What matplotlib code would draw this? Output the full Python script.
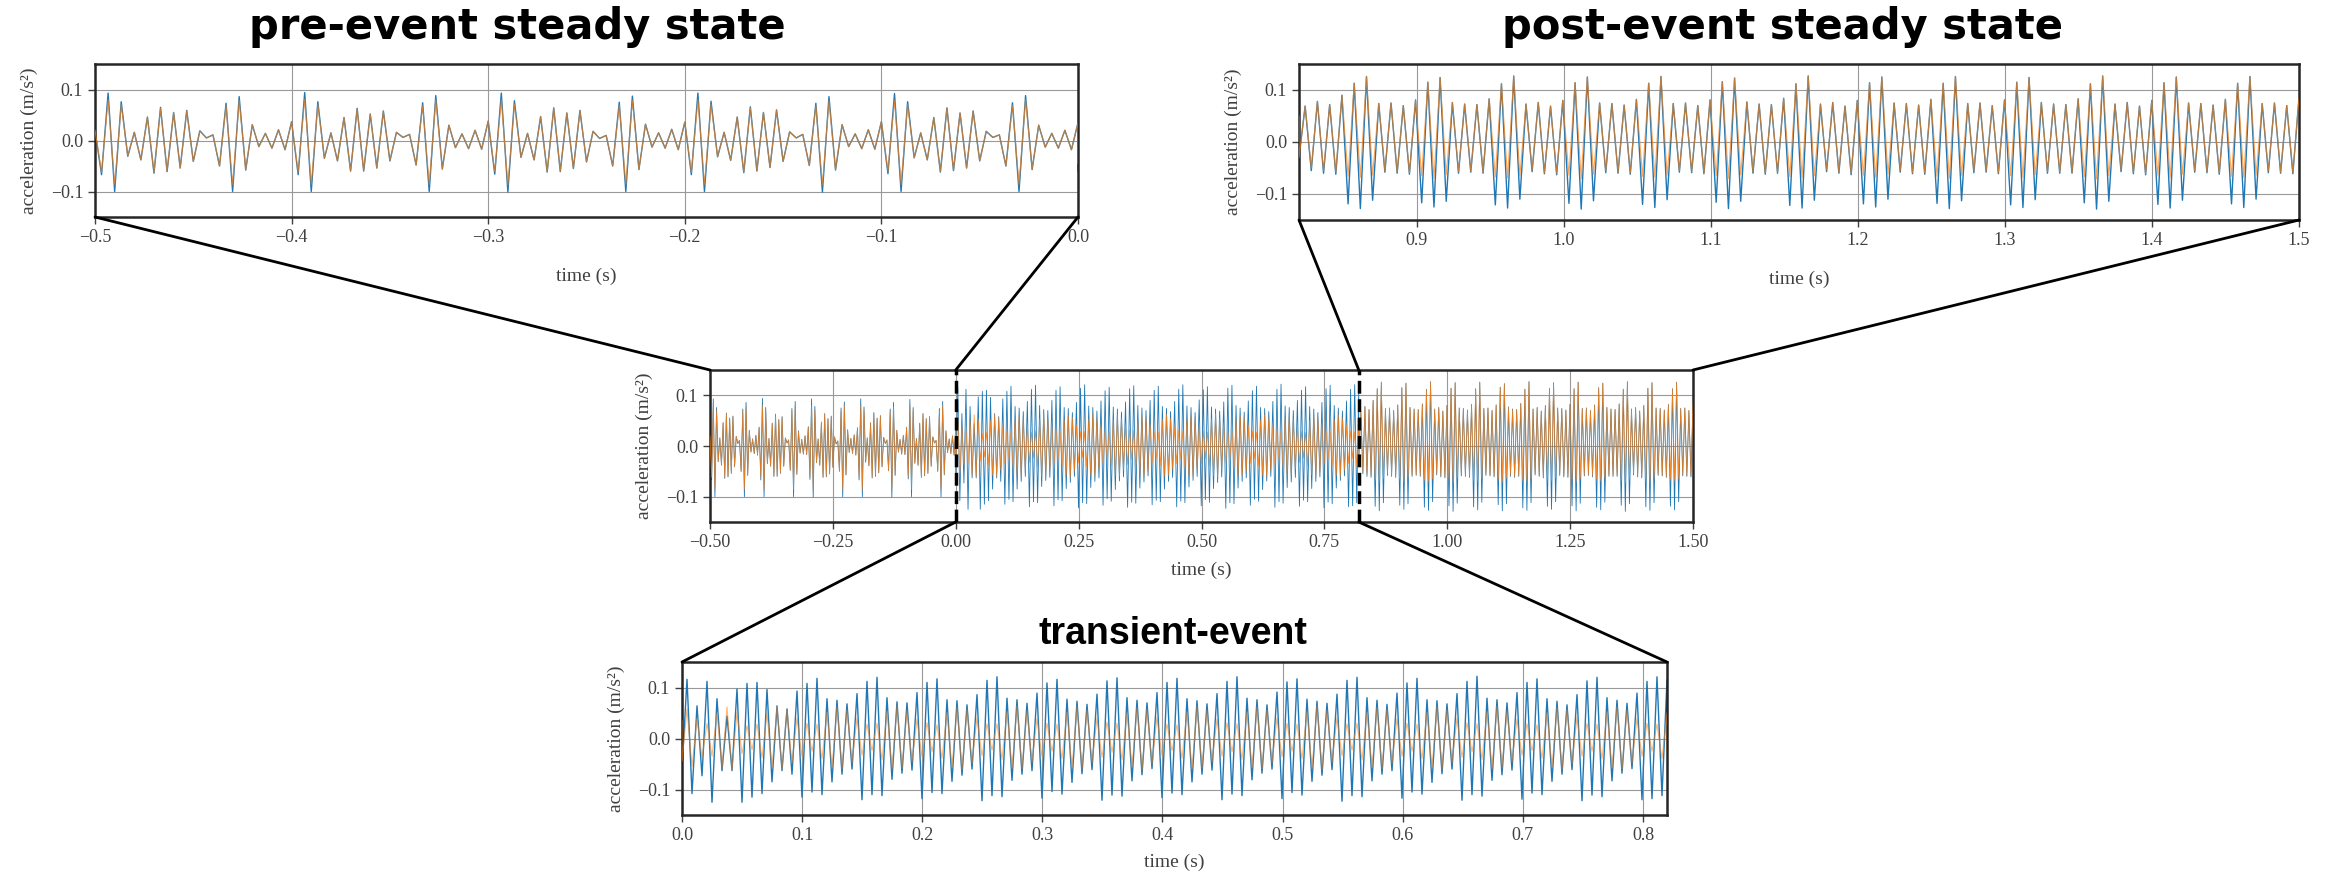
import numpy as np
import matplotlib.pyplot as plt
from matplotlib.patches import ConnectionPatch

plt.rcParams['font.family'] = ['Liberation Serif', 'DejaVu Serif']

# successive peaks / troughs of the two acceleration traces, in 1e-3 m/s^2,
# read off the zoomed panels (evenly spaced in time inside each segment)
seg_pre = (-0.5, 0.0)
seg_tr = (0.0, 0.82)
seg_post = (0.82, 1.5)

pre_blue = [20,
    -67, 93, -100, 76, -31, 16, -38, 46, -64, 65, -61, 55, -54, 59, -41, 19, 5, 11, -50, 73, -100, 86, -58, 31, -12, 14, -15, 21, -18, 37,
    -67, 94, -100, 76, -35, 15, -40, 45, -60, 63, -60, 52, -54, 58, -40, 16, 6, 12, -48, 74, -100, 88, -56, 30, -14, 13, -16, 20, -17, 38,
    -66, 93, -101, 78, -33, 14, -38, 47, -62, 64, -61, 54, -55, 59, -42, 18, 4, 10, -50, 75, -100, 87, -57, 32, -13, 15, -15, 22, -18, 36,
    -67, 93, -100, 77, -32, 16, -39, 46, -63, 66, -60, 55, -53, 60, -41, 17, 5, 12, -49, 73, -101, 86, -58, 31, -12, 13, -16, 21, -17, 37,
    -65, 92, -100, 76, -34, 15, -38, 45, -62, 64, -59, 54, -54, 58, -40, 18, 6, 11, -50, 74, -100, 88, -57, 30, -13, 14, -15, 20, -18, 35]
pre_orange = [20,
    -62, 80, -86, 70, -31, 16, -38, 46, -62, 63, -60, 55, -54, 58, -41, 19, 5, 11, -50, 68, -86, 78, -57, 31, -12, 14, -15, 21, -18, 37,
    -62, 81, -86, 70, -35, 15, -40, 45, -60, 62, -59, 52, -54, 57, -40, 16, 6, 12, -48, 69, -86, 80, -56, 30, -14, 13, -16, 20, -17, 38,
    -61, 80, -87, 71, -33, 14, -38, 47, -61, 63, -60, 54, -55, 58, -42, 18, 4, 10, -50, 69, -86, 79, -57, 32, -13, 15, -15, 22, -18, 36,
    -62, 80, -86, 71, -32, 16, -39, 46, -62, 64, -59, 55, -53, 59, -41, 17, 5, 12, -49, 68, -87, 78, -57, 31, -12, 13, -16, 21, -17, 37,
    -60, 79, -86, 70, -34, 15, -38, 45, -61, 63, -58, 54, -54, 57, -40, 18, 6, 11, -50, 69, -86, 80, -56, 30, -13, 14, -15, 20, -18, 35]

tr_blue = [-60, 116, -108, 64, -73, 112, -125, 78, -63, 44, -63, 97, -125, 108, -115, 110, -108, 96, -85, 64, -63, 58, -70, 93,
    -115, 108, -105, 118, -110, 78, -85, 75, -70, 68, -60, 88,
    -120, 112, -110, 120, -112, 80, -80, 72, -68, 70, -62, 90,
    -118, 110, -106, 117, -108, 76, -84, 74, -72, 66, -60, 86,
    -122, 114, -112, 121, -114, 79, -82, 76, -70, 69, -63, 89,
    -117, 109, -104, 116, -109, 77, -86, 73, -69, 67, -61, 87,
    -121, 113, -111, 119, -113, 80, -83, 75, -71, 70, -59, 90,
    -116, 110, -107, 118, -110, 78, -85, 74, -70, 68, -62, 88,
    -120, 112, -109, 121, -112, 79, -81, 76, -68, 66, -60, 91,
    -118, 111, -106, 117, -111, 77, -84, 73, -72, 69, -61, 87,
    -123, 114, -112, 120, -114, 80, -83, 75, -70, 67, -63, 89,
    -117, 109, -105, 118, -109, 76, -86, 74, -69, 68, -60, 88,
    -121, 112, -110, 122, -113, 79, -82, 76, -71, 70, -62, 90,
    -119, 110, -107, 117, -110, 78, -84, 73, -70, 66, -61, 86,
    -122, 113, -111, 120, -114, 80, -83, 75, -68, 69, -59, 89,
    -120, 112, -118, 121, -112, 115]
tr_orange = [-45, 58, -55, 40, -38, 30, -35, 50, -58, 62, -60, 52, -30, 25, -22, 28, -38, 50, -58, 62, -60, 55, -48, 40,
    -35, 30, -25, 28, -40, 52, -58, 62, -60, 56, -48, 40,
    -33, 28, -24, 30, -42, 54, -60, 63, -58, 55, -46, 38,
    -36, 31, -26, 27, -39, 51, -57, 61, -61, 57, -49, 41,
    -34, 29, -23, 29, -41, 53, -59, 64, -59, 54, -47, 39,
    -35, 30, -25, 28, -40, 52, -58, 62, -60, 56, -48, 40,
    -37, 32, -27, 30, -42, 50, -56, 60, -62, 57, -50, 42,
    -33, 28, -24, 27, -39, 53, -60, 63, -58, 55, -46, 38,
    -35, 31, -26, 29, -41, 52, -58, 62, -60, 56, -48, 40,
    -36, 30, -25, 28, -40, 54, -59, 64, -61, 55, -47, 41,
    -34, 29, -23, 30, -42, 51, -57, 61, -59, 57, -49, 39,
    -35, 30, -25, 28, -40, 52, -58, 62, -60, 56, -48, 40,
    -37, 31, -26, 29, -41, 53, -60, 63, -58, 54, -46, 38,
    -33, 29, -24, 27, -39, 50, -57, 61, -61, 57, -50, 42,
    -35, 30, -25, 28, -40, 52, -58, 62, -60, 56, -48, 40,
    -35, 30, -25, 28, -40, 50]

post_blue = [-30, 69, -55, 78, -60, 72, -62, 90,
    -119, 113, -128, 126, -112, 74, -58, 75, -60, 70, -62, 81,
    -117, 115, -125, 124, -114, 76, -60, 73, -58, 72, -60, 83,
    -121, 112, -127, 127, -110, 73, -57, 76, -61, 69, -63, 80,
    -118, 114, -129, 125, -113, 75, -59, 74, -60, 71, -62, 82,
    -120, 113, -126, 126, -111, 74, -58, 75, -59, 70, -61, 81,
    -116, 116, -128, 123, -114, 77, -60, 73, -62, 72, -60, 84,
    -122, 112, -127, 127, -112, 73, -57, 76, -60, 69, -63, 80,
    -119, 114, -125, 125, -110, 75, -58, 74, -61, 71, -62, 82,
    -118, 113, -128, 126, -113, 74, -59, 75, -58, 70, -61, 81,
    -121, 115, -126, 124, -111, 76, -60, 73, -60, 72, -60, 83,
    -117, 112, -129, 127, -114, 73, -57, 76, -61, 69, -63, 80,
    -120, 114, -127, 125, -112, 75, -58, 74, -59, 71, -62, 82,
    -119, 113, -126, 126, -110, 74, -59, 75, -60, 70, -61, 85]
post_orange = [-30, 69, -50, 78, -55, 72, -58, 90,
    -66, 113, -68, 126, -64, 74, -55, 75, -58, 70, -60, 81,
    -65, 115, -70, 124, -63, 76, -57, 73, -56, 72, -58, 83,
    -67, 112, -69, 127, -65, 73, -54, 76, -59, 69, -61, 80,
    -64, 114, -71, 125, -62, 75, -56, 74, -58, 71, -60, 82,
    -66, 113, -68, 126, -64, 74, -55, 75, -57, 70, -59, 81,
    -65, 116, -70, 123, -63, 77, -57, 73, -60, 72, -58, 84,
    -67, 112, -69, 127, -65, 73, -54, 76, -58, 69, -61, 80,
    -64, 114, -68, 125, -62, 75, -55, 74, -59, 71, -60, 82,
    -66, 113, -70, 126, -64, 74, -56, 75, -56, 70, -59, 81,
    -65, 115, -68, 124, -63, 76, -57, 73, -58, 72, -58, 83,
    -67, 112, -71, 127, -65, 73, -54, 76, -59, 69, -61, 80,
    -64, 114, -69, 125, -62, 75, -55, 74, -57, 71, -60, 82,
    -66, 113, -68, 126, -64, 74, -56, 75, -58, 70, -59, 85]


def trace(parts):
    t = np.concatenate([np.linspace(a, b, len(v)) for (a, b), v in parts])
    y = np.concatenate([np.asarray(v, float) / 1000.0 for _, v in parts])
    return t, y


t_b, y_b = trace([(seg_pre, pre_blue), (seg_tr, tr_blue), (seg_post, post_blue)])
t_o, y_o = trace([(seg_pre, pre_orange), (seg_tr, tr_orange), (seg_post, post_orange)])

W, H = 2336, 881
fig = plt.figure(figsize=(W / 100, H / 100), dpi=100)


def box(x0, x1, y0, y1):
    return [x0 / W, 1 - y1 / H, (x1 - x0) / W, (y1 - y0) / H]


ax_pre = fig.add_axes(box(95, 1078, 64, 217))
ax_post = fig.add_axes(box(1299, 2299, 64, 220))
ax_all = fig.add_axes(box(710, 1693, 370, 522))
ax_tr = fig.add_axes(box(682, 1667, 662, 815))

panels = [(ax_pre, seg_pre, np.arange(-0.5, 0.01, 0.1), 1.0, 0.7, 16),
          (ax_post, seg_post, np.arange(0.9, 1.51, 0.1), 1.0, 0.7, 16),
          (ax_all, (-0.5, 1.5), np.arange(-0.5, 1.51, 0.25), 0.6, 0.9, 8),
          (ax_tr, seg_tr, np.arange(0.0, 0.81, 0.1), 1.0, 0.55, 7)]
for ax, xl, ticks, lw, alpha, xpad in panels:
    ax.plot(t_b, y_b, color='#1f77b4', lw=lw, zorder=2)
    ax.plot(t_o, y_o, color='#ff7f0e', lw=lw * 0.8, alpha=alpha, zorder=3)
    ax.set_xlim(*xl)
    ax.set_ylim(-0.15, 0.15)
    ax.set_xticks(ticks)
    ax.set_yticks([-0.1, 0.0, 0.1])
    ax.set_axisbelow(True)
    ax.grid(True, color='0.6', lw=0.8)
    ax.tick_params(labelsize=13, length=5, width=1, colors='0.25')
    for s in ax.spines.values():
        s.set_linewidth(1.8)
        s.set_color('0.15')
    ax.set_xlabel('time (s)', fontsize=14, color='0.25', labelpad=xpad)
    ax.set_ylabel('acceleration (m/s²)', fontsize=14, color='0.25', labelpad=9)

for xv in (0.0, 0.82):
    ax_all.axvline(xv, color='k', ls='--', lw=2.5, zorder=5)

links = [(ax_pre, (-0.5, -0.15), ax_all, (-0.5, 0.15)),
         (ax_pre, (0.0, -0.15), ax_all, (0.0, 0.15)),
         (ax_post, (0.82, -0.15), ax_all, (0.82, 0.15)),
         (ax_post, (1.5, -0.15), ax_all, (1.5, 0.15)),
         (ax_all, (0.0, -0.15), ax_tr, (0.0, 0.15)),
         (ax_all, (0.82, -0.15), ax_tr, (0.82, 0.15))]
for a, pa, b, pb in links:
    fig.add_artist(ConnectionPatch(xyA=pa, coordsA=a.transData, xyB=pb, coordsB=b.transData,
                                   color='k', lw=2))

top_kw = dict(fontsize=30, fontweight='bold', family='DejaVu Sans', ha='center', va='baseline')
fig.text(517 / W, 1 - 39 / H, 'pre-event steady state', **top_kw)
fig.text(1783 / W, 1 - 39 / H, 'post-event steady state', **top_kw)
fig.text(1173 / W, 1 - 644 / H, 'transient-event', fontsize=27, fontweight='bold',
         family='Liberation Sans', ha='center', va='baseline')

fig.savefig('out.png', dpi=100)
